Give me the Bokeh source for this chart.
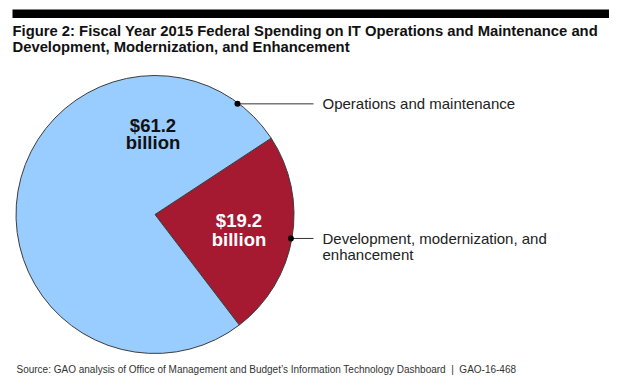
import math
from bokeh.plotting import figure
from bokeh.models import Range1d, ColumnDataSource
from bokeh.core.properties import value
from bokeh.embed import file_html
from bokeh.resources import INLINE

# ---- data ----
categories = ["Development, modernization, and enhancement", "Operations and maintenance"]
values = [19.2, 61.2]  # $ billions
value_labels = ["$19.2", "$61.2"]
colors = ["#A51931", "#99CCFF"]
title_lines = ["Figure 2: Fiscal Year 2015 Federal Spending on IT Operations and Maintenance and",
               "Development, Modernization, and Enhancement"]
source_note = "Source: GAO analysis of Office of Management and Budget\u2019s Information Technology Dashboard\u00a0 |\u00a0 GAO-16-468"

W, H = 609, 376
p = figure(width=W, height=H, output_backend="svg", toolbar_location=None,
           x_range=Range1d(0, W), y_range=Range1d(392 - H, 392),
           min_border=0)
p.axis.visible = False
p.grid.visible = False
p.outline_line_color = None
p.background_fill_color = "white"
p.border_fill_color = "white"

def Y(img_y):
    return 392 - img_y

# pie geometry
cx, cy, R = 154.5, Y(214), 139
total = sum(values)
red_end = math.radians(33.3)
angles = [v / total * 2 * math.pi for v in values]
starts, ends = [], []
a = red_end - angles[0]
for ang in angles:
    starts.append(a)
    ends.append(a + ang)
    a += ang

src = ColumnDataSource(dict(x=[cx] * len(values), y=[cy] * len(values),
                            start=starts, end=ends, color=colors))
p.wedge(x="x", y="y", radius=R, radius_units="screen", start_angle="start", end_angle="end",
        fill_color="color", line_color="#3c3c3c", line_width=1, source=src)

# top black bar
p.quad(left=[12], right=[610], bottom=[Y(17.5)], top=[Y(9)], fill_color="black", line_color=None)

# title
p.text(x=[12, 12], y=[Y(30), Y(46)], text=title_lines, text_font=value("Liberation Sans"),
       text_font_style="bold", text_font_size="14.8px", text_color="#111111",
       text_baseline="middle", text_align="left")

# value labels inside slices
p.text(x=[238.5, 238.5], y=[Y(220), Y(239)], text=[value_labels[0], "billion"],
       text_font=value("Liberation Sans"), text_font_style="bold", text_font_size="18.5px",
       text_color="white", text_baseline="middle", text_align="center")
p.text(x=[152.5, 152.5], y=[Y(125), Y(142)], text=[value_labels[1], "billion"],
       text_font=value("Liberation Sans"), text_font_style="bold", text_font_size="18.5px",
       text_color="#111111", text_baseline="middle", text_align="center")

# leader lines with dots
ann_angles = [math.radians(-10), math.radians(53.3)]
dots_x = [cx + (R - 1) * math.cos(t) for t in ann_angles]
dots_y = [cy + (R - 1) * math.sin(t) for t in ann_angles]
for dx, dy in zip(dots_x, dots_y):
    p.line(x=[dx, 313], y=[dy, dy], line_color="#333333", line_width=1)
p.scatter(x=dots_x, y=dots_y, size=6, fill_color="black", line_color=None)

# category labels
p.text(x=[322], y=[dots_y[1]], text=[categories[1]], text_font=value("Liberation Sans"),
       text_font_size="15px", text_color="#222222", text_baseline="middle")
p.text(x=[322, 322], y=[dots_y[0], dots_y[0] - 16],
       text=["Development, modernization, and", "enhancement"],
       text_font=value("Liberation Sans"), text_font_size="15px", text_color="#222222",
       text_baseline="middle")

# source
p.text(x=[16], y=[Y(369)], text=[source_note], text_font=value("Liberation Sans"),
       text_font_size="10px", text_color="#333333", text_baseline="middle")

open("out.html", "w").write(file_html(p, INLINE))
